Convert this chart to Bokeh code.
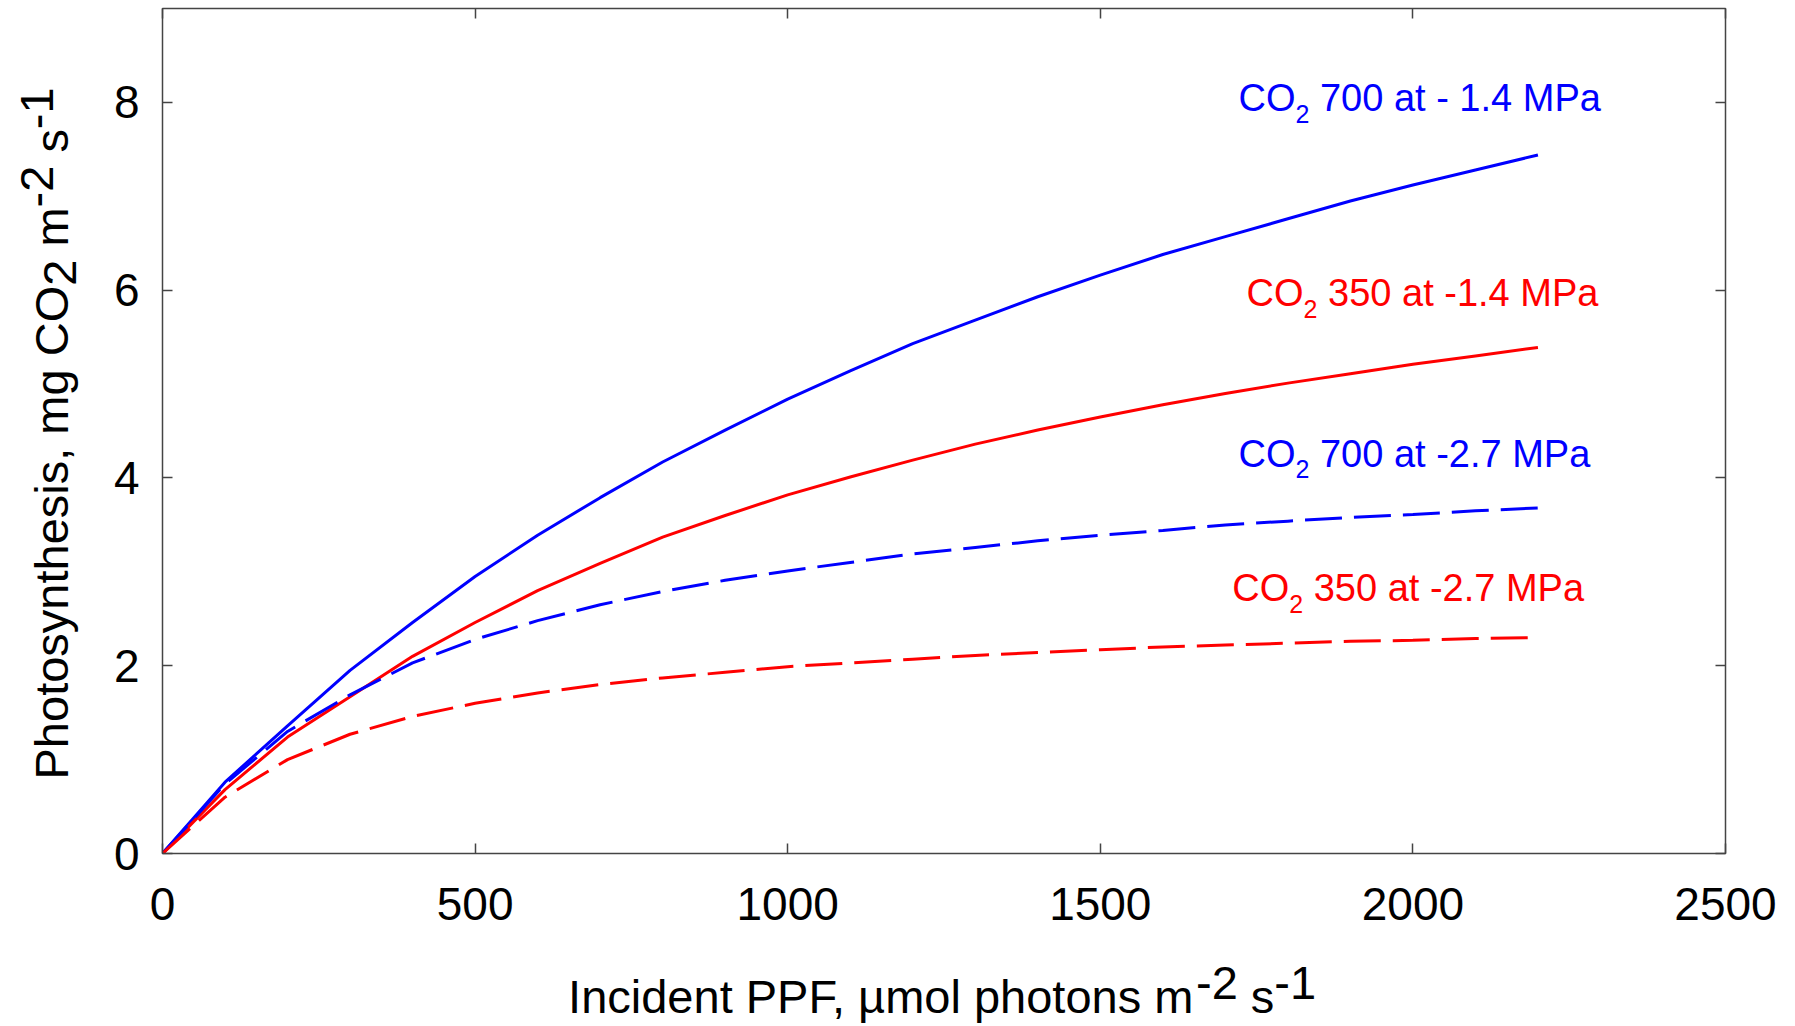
from bokeh.plotting import figure
from bokeh.models import Range1d, LinearAxis, Label, FixedTicker, CustomJSTickFormatter
from bokeh.embed import file_html
from bokeh.resources import INLINE

# Incident PPF (umol photons m-2 s-1)
ppf = [0, 100, 200, 300, 400, 500, 600, 700, 800, 900, 1000, 1100,
       1200, 1300, 1400, 1500, 1600, 1700, 1800, 1900, 2000, 2100, 2200]

# Photosynthesis (mg CO2 m-2 s-1) for each CO2 level / water potential
co2_700_wet = [0, 0.76, 1.36, 1.95, 2.46, 2.95, 3.39, 3.79, 4.17, 4.51, 4.84, 5.14,
               5.43, 5.68, 5.93, 6.16, 6.38, 6.57, 6.76, 6.95, 7.12, 7.28, 7.44]
co2_350_wet = [0, 0.68, 1.24, 1.67, 2.10, 2.46, 2.80, 3.09, 3.37, 3.60, 3.82, 4.01,
               4.19, 4.36, 4.51, 4.65, 4.78, 4.90, 5.01, 5.11, 5.21, 5.30, 5.39]
co2_700_dry = [0, 0.74, 1.30, 1.69, 2.03, 2.28, 2.48, 2.65, 2.79, 2.91, 3.01, 3.10,
               3.19, 3.26, 3.33, 3.39, 3.44, 3.50, 3.54, 3.58, 3.61, 3.65, 3.68]
co2_350_dry = [0, 0.60, 1.00, 1.27, 1.46, 1.60, 1.71, 1.80, 1.87, 1.93, 1.99, 2.03,
               2.07, 2.11, 2.14, 2.17, 2.20, 2.22, 2.24, 2.26, 2.27, 2.29, 2.30]

x_ticks = [0, 500, 1000, 1500, 2000, 2500]
y_ticks = [0, 2, 4, 6, 8]

FONT = "Liberation Sans"
BLUE = "#0000ff"
RED = "#ff0000"
FRAME_COLOR = "#444444"

# plot geometry (pixels)
W, H = 1795, 1026
LEFT, RIGHT, TOP, BOTTOM = 162, 70, 8, 173
X0, X1, Y0, Y1 = 0, 2500, 0, 9
PX_X = (W - LEFT - RIGHT) / (X1 - X0)
PX_Y = (H - TOP - BOTTOM) / (Y1 - Y0)

# Arial / Liberation Sans advance widths (per em)
ADV = {" ": .278, "-": .333, ".": .278, ",": .278, "µ": .576,
       "A": .667, "C": .722, "F": .611, "I": .278, "M": .833, "O": .778, "P": .667,
       "a": .556, "c": .5, "d": .556, "e": .556, "g": .556, "h": .556, "i": .222,
       "l": .222, "m": .833, "n": .556, "o": .556, "p": .556, "s": .5, "t": .278,
       "y": .5}


def text_width(s, size):
    return sum(ADV.get(ch, .556) for ch in s) * size


def to_x(px):
    return X0 + (px - LEFT) / PX_X


def to_y(py):
    return Y0 + (H - BOTTOM - py) / PX_Y


p = figure(width=W, height=H,
           x_range=Range1d(X0, X1), y_range=Range1d(Y0, Y1),
           output_backend="svg", toolbar_location=None,
           min_border_left=LEFT, min_border_right=RIGHT,
           min_border_top=TOP, min_border_bottom=BOTTOM)
p.xgrid.visible = False
p.ygrid.visible = False
p.outline_line_color = FRAME_COLOR
p.outline_line_width = 1.5
p.background_fill_color = "white"
p.border_fill_color = "white"


def style_axis(ax, ticks, labels=True):
    ax.ticker = FixedTicker(ticks=ticks)
    ax.axis_line_color = None
    ax.major_tick_in = 10
    ax.major_tick_out = 0
    ax.major_tick_line_color = FRAME_COLOR
    ax.major_tick_line_width = 1.5
    ax.minor_tick_line_color = None
    ax.major_label_text_font = FONT
    ax.major_label_text_color = "black"
    if labels:
        ax.major_label_text_font_size = "46px"
    else:
        ax.formatter = CustomJSTickFormatter(code="return ''")
        ax.major_label_text_font_size = "1px"
        ax.major_label_standoff = 0


style_axis(p.xaxis[0], x_ticks)
p.xaxis[0].major_label_standoff = 34
style_axis(p.yaxis[0], y_ticks)
p.yaxis[0].major_label_standoff = 23

top_axis = LinearAxis()
style_axis(top_axis, x_ticks, labels=False)
p.add_layout(top_axis, "above")
right_axis = LinearAxis()
style_axis(right_axis, y_ticks, labels=False)
p.add_layout(right_axis, "right")

# Curves
p.line(ppf, co2_700_wet, line_color=BLUE, line_width=3)
p.line(ppf, co2_350_wet, line_color=RED, line_width=3)
p.line(ppf, co2_700_dry, line_color=BLUE, line_width=3, line_dash="37 12")
p.line(ppf, co2_350_dry, line_color=RED, line_width=3, line_dash="37 12")


# Curve annotations: "CO" + subscript "2" + rest of the label
def annotate(x, y, rest, color, size=38, sub=25, drop=11):
    pieces = [("CO", size, 0), ("2", sub, -drop), (" " + rest, size, 0)]
    adv = 0.0
    for txt, fs, shift in pieces:
        lead = len(txt) - len(txt.lstrip(" "))
        p.add_layout(Label(x=x, y=y, x_offset=adv + text_width(txt[:lead], fs),
                           y_offset=shift + 0.37 * fs, text=txt.lstrip(" "),
                           text_font=FONT, text_font_size=f"{fs}px",
                           text_color=color, text_align="left",
                           text_baseline="alphabetic"))
        adv += text_width(txt, fs)


annotate(1721, 7.90, "700 at - 1.4 MPa", BLUE)
annotate(1734, 5.82, "350 at -1.4 MPa", RED)
annotate(1721, 4.11, "700 at -2.7 MPa", BLUE)
annotate(1711, 2.68, "350 at -2.7 MPa", RED)


# Axis titles: each baseline level (normal / raised / lowered) is a row of
# labels on an extra, line-less axis; labels are centred on their ticks.
TITLE = 47


def title_row(place, convert, items, standoff, parallel=False):
    ticks, overrides = [], {}
    for center_px, txt in items:
        v = round(convert(center_px), 4)
        ticks.append(v)
        overrides[v] = txt
    ax = LinearAxis(ticker=FixedTicker(ticks=ticks), major_label_overrides=overrides)
    ax.axis_line_color = None
    ax.major_tick_line_color = None
    ax.minor_tick_line_color = None
    ax.major_tick_in = 0
    ax.major_tick_out = 0
    ax.major_label_standoff = standoff
    ax.major_label_text_font = FONT
    ax.major_label_text_font_size = f"{TITLE}px"
    ax.major_label_text_color = "black"
    if parallel:
        ax.major_label_orientation = "parallel"
    p.add_layout(ax, place)


def run(start, parts, sign):
    """Centres of consecutive pieces laid out from start (sign=-1 runs upward)."""
    out, adv = [], 0.0
    for txt in parts:
        w = text_width(txt, TITLE)
        lead = len(txt) - len(txt.lstrip(" "))
        lw = text_width(txt[:lead], TITLE)
        out.append((start + sign * (adv + lw + (w - lw) / 2), txt.strip()))
        adv += w
    return out


xt = run(565, ["Incident PPF, µmol photons m", "-2", " s", "-1"], +1)
title_row("below", to_x, [xt[1], xt[3]], 44)          # superscripts
title_row("below", to_x, [xt[0], xt[2]], -32)         # main text

yt = run(779, ["Photosynthesis, mg CO", "2", " m", "-2", " s", "-1"], -1)
title_row("left", to_y, [yt[1]], 34, parallel=True)                 # subscript
title_row("left", to_y, [yt[0], yt[2], yt[4]], -37, parallel=True)  # main text
title_row("left", to_y, [yt[3], yt[5]], -31, parallel=True)         # superscripts

open("out.html", "w").write(file_html(p, INLINE))
